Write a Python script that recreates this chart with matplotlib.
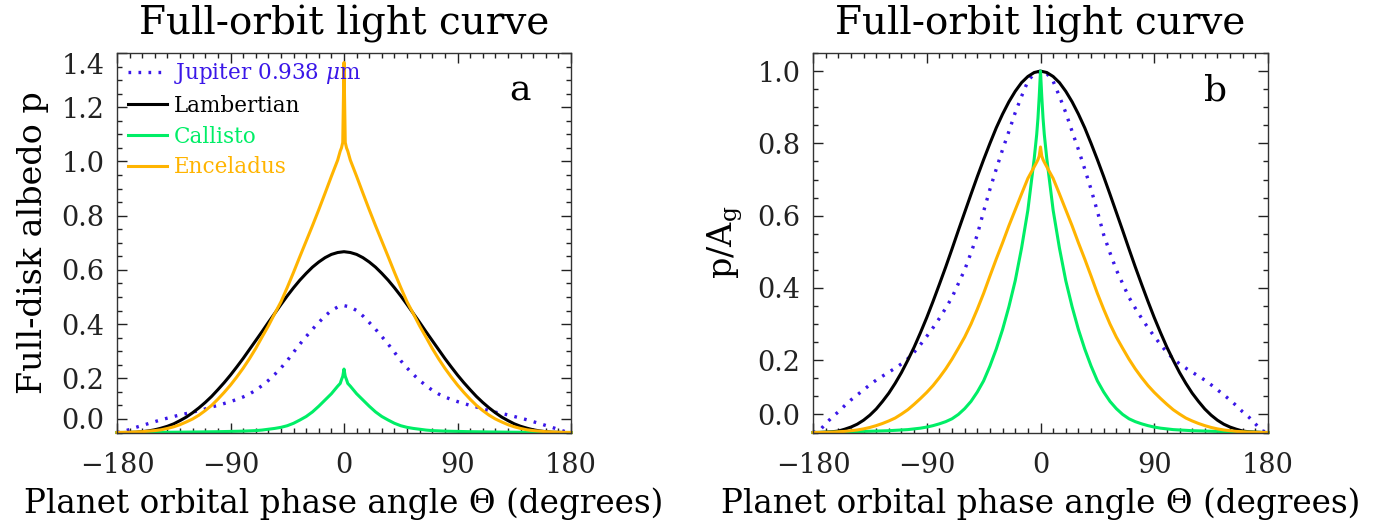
import numpy as np
import matplotlib.pyplot as plt
from matplotlib.ticker import MultipleLocator

plt.rcParams['font.family'] = ['DejaVu Serif']
plt.rcParams['mathtext.fontset'] = 'dejavuserif'

## phase angles (degrees, one half of the orbit; curves are symmetric about 0)
theta = [0, 5, 10, 15, 20, 25, 30, 35, 40, 45, 50, 55, 60, 65, 70, 75, 80, 85, 90,
         95, 100, 105, 110, 115, 120, 125, 130, 135, 140, 145, 150, 155, 160, 165,
         170, 175, 180]
theta_spike = [0, 1, 2, 3] + theta[1:]

## panel a : full-disk albedo
jup_a = [.468, .463, .450, .430, .406, .381, .354, .326, .296, .265, .238, .214, .192,
         .173, .156, .142, .131, .122, .114, .107, .100, .094, .087, .081, .075, .070,
         .065, .059, .053, .047, .040, .033, .026, .019, .011, .004, 0]
lamb_a = [.667, .664, .657, .645, .629, .610, .587, .562, .534, .504, .472, .439, .406,
          .372, .339, .306, .273, .242, .212, .184, .158, .133, .111, .091, .073, .057,
          .044, .032, .023, .016, .010, .006, .003, .001, .0004, 0, 0]
call_a = [.234, .207, .195, .181, .171, .143, .120, .097, .076, .059, .046, .034, .025,
          .019, .015, .012, .009, .007, .006, .005, .0045, .004, .0035, .003, .0027,
          .0024, .002, .0018, .0015, .0012, .001, .0008, .0006, .0004, .0003, .0002,
          .0001, .00005, 0, 0]
ence_a = [1.365, 1.07, 1.05, 1.038, 1.005, .945, .883, .822, .763, .706, .649, .591,
          .535, .482, .438, .393, .352, .310, .272, .237, .205, .175, .148, .123, .100,
          .081, .064, .050, .039, .029, .021, .015, .010, .007, .005, .003, .002, .001,
          .0004, 0]

## panel b : normalised by geometric albedo
jup_b = [1.0, .993, .972, .930, .885, .833, .783, .729, .673, .612, .547, .497, .450,
         .412, .374, .344, .316, .290, .266, .243, .222, .204, .190, .178, .167, .156,
         .145, .132, .118, .104, .090, .074, .057, .042, .024, .005, 0]
lamb_b = [1.0, .996, .985, .968, .944, .915, .881, .843, .800, .755, .708, .659, .609,
          .559, .508, .458, .410, .363, .318, .276, .236, .200, .166, .136, .109, .086,
          .065, .048, .034, .023, .015, .009, .004, .002, .001, .0001, 0]
call_b = [1.0, .93, .87, .825, .757, .615, .51, .42, .348, .285, .231, .184, .143, .112,
          .086, .066, .050, .038, .030, .024, .019, .015, .012, .010, .008, .007, .006,
          .005, .0045, .004, .0035, .003, .0025, .002, .0015, .001, .0007, .0004, .0002, 0]
ence_b = [.79, .765, .755, .748, .735, .703, .660, .616, .572, .525, .480, .433, .385,
          .341, .300, .264, .233, .203, .176, .152, .130, .111, .094, .078, .063, .051,
          .040, .032, .025, .019, .014, .010, .007, .005, .003, .002, .001, .0005,
          .0002, 0]

c_jup = "#3a17e8"
c_lamb = "black"
c_call = "#00ee66"
c_ence = "#ffb400"


def both_sides(ang, vals):
    ang = np.asarray(ang, float)
    vals = np.asarray(vals, float)
    return (np.concatenate([-ang[::-1], ang[1:]]),
            np.concatenate([vals[::-1], vals[1:]]))


def style_axes(ax, ytop, yticks, ylabels):
    ax.set_xlim(-180, 180)
    ax.set_ylim(0, ytop)
    ax.set_xticks([-180, -90, 0, 90, 180])
    ax.set_xticklabels(["\u2212180", "\u221290", "0", "90", "180"])
    ax.xaxis.set_minor_locator(MultipleLocator(10))
    ax.set_yticks(yticks)
    ax.set_yticklabels(ylabels)
    ax.yaxis.set_minor_locator(MultipleLocator(0.05))
    ax.tick_params(which='both', direction='in', top=True, right=True,
                   labelsize=19.5, colors='#222222', width=1.0)
    ax.tick_params(which='major', length=7.2)
    ax.tick_params(which='minor', length=3.6)
    ax.tick_params(axis='x', pad=14)
    ax.tick_params(axis='y', pad=9)
    for s in ax.spines.values():
        s.set_linewidth(1.0)
        s.set_color('#333333')
    ax.set_title("Full-orbit light curve", fontsize=28, pad=13)
    ax.set_xlabel("Planet orbital phase angle \u0398 (degrees)", fontsize=23.5,
                  labelpad=6)


fig = plt.figure(figsize=(13.77, 5.23), dpi=100)
ax1 = fig.add_axes([117/1377, 90.5/523, 454/1377, 379.5/523])
ax2 = fig.add_axes([813/1377, 90.5/523, 455/1377, 379.5/523])

lw = 2.2
for ax, (j, l, c, e) in [(ax1, (jup_a, lamb_a, call_a, ence_a)),
                         (ax2, (jup_b, lamb_b, call_b, ence_b))]:
    x, y = both_sides(theta, j)
    ax.plot(x, y, color=c_jup, lw=2.4, linestyle=(0, (0.8, 2.2)),
            label=r"Jupiter 0.938 $\mu$m", clip_on=False)
    x, y = both_sides(theta, l)
    ax.plot(x, y, color=c_lamb, lw=lw, label="Lambertian", clip_on=False)
    x, y = both_sides(theta_spike, c)
    ax.plot(x, y, color=c_call, lw=lw, label="Callisto", clip_on=False)
    x, y = both_sides(theta_spike, e)
    ax.plot(x, y, color=c_ence, lw=lw, label="Enceladus", clip_on=False)

style_axes(ax1, 1.4, [0.05, 0.2, 0.4, 0.6, 0.8, 1.0, 1.2, 1.4],
           ["0.0", "0.2", "0.4", "0.6", "0.8", "1.0", "1.2", "1.4"])
ax1.get_yticklabels()[-1].set_va('top')
ax1.set_ylabel("Full-disk albedo p", fontsize=24, labelpad=9)
ax1.text(0.888, 0.9, "a", transform=ax1.transAxes, fontsize=26,
         ha='center', va='center')
ax1.legend(loc='upper left', bbox_to_anchor=(0.025, 0.978), frameon=False,
           fontsize=15.5, handlelength=1.8, handletextpad=0.3,
           labelspacing=0.4, borderpad=0, borderaxespad=0,
           labelcolor='linecolor')

style_axes(ax2, 1.05, [0.05, 0.2, 0.4, 0.6, 0.8, 1.0],
           ["0.0", "0.2", "0.4", "0.6", "0.8", "1.0"])
ax2.set_ylabel(r"p/A$_{\rm g}$", fontsize=24, labelpad=9)
ax2.text(0.884, 0.9, "b", transform=ax2.transAxes, fontsize=26,
         ha='center', va='center')

plt.savefig("out.png", dpi=100)
